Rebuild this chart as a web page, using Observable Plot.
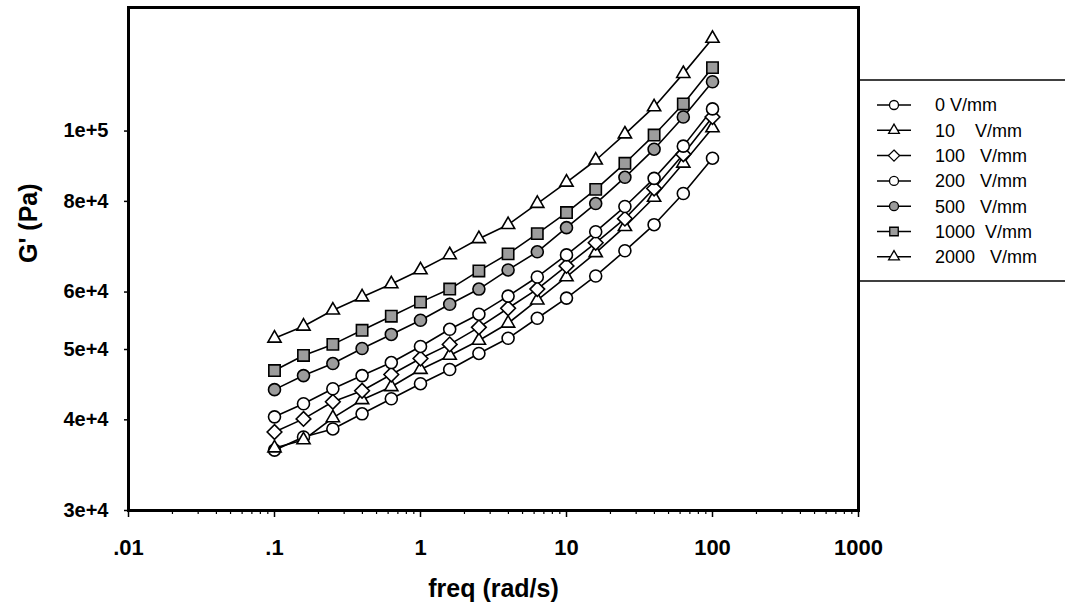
<!DOCTYPE html>
<html><head><meta charset="utf-8">
<script src="https://cdn.jsdelivr.net/npm/d3@7"></script>
<script src="https://cdn.jsdelivr.net/npm/@observablehq/plot@0.6"></script>
<style>
body{margin:0;background:#fff;}
#wrap{position:relative;width:1065px;height:613px;overflow:hidden;}
#wrap svg{position:absolute;left:0;top:0;}
</style></head><body><div id="wrap"></div>
<script>
// frequency (rad/s)
const freq = [0.1, 0.158, 0.251, 0.398, 0.631, 1, 1.585, 2.512, 3.981, 6.31, 10, 15.85, 25.12, 39.81, 63.1, 100];
// G' (Pa) per field strength
const g0    = [36330, 37880, 38860, 40770, 42770, 44860, 46920, 49380, 51810, 55210, 58860, 63140, 68390, 74300, 82030, 91750];
const g10   = [36570, 37520, 40250, 42630, 44420, 46920, 49070, 51460, 54340, 58480, 62940, 67950, 73820, 81000, 90280, 100970];
const g100  = [38490, 40120, 42360, 43870, 46180, 48590, 50820, 53640, 57000, 60570, 65190, 70150, 75740, 83350, 92920, 104570];
const g200  = [40380, 42090, 44150, 46030, 47970, 50490, 53310, 55930, 59230, 62940, 67510, 72660, 78700, 86070, 95330, 107280];
const g500  = [44020, 46030, 47820, 50160, 52450, 54860, 57730, 60570, 64360, 68170, 73600, 79450, 86350, 94410, 104570, 116950];
const g1000 = [46770, 49070, 50820, 53140, 55570, 58110, 60570, 64160, 67730, 72220, 77220, 83100, 90280, 98740, 108990, 122300];
const g2000 = [51810, 53820, 56640, 59050, 61550, 64360, 67510, 71040, 74300, 79450, 84990, 91150, 99040, 107960, 119990, 134170];

const seriesNames = ["0 V/mm", "10    V/mm", "100   V/mm", "200   V/mm", "500   V/mm", "1000  V/mm", "2000   V/mm"];
const seriesValues = [g0, g10, g100, g200, g500, g1000, g2000];

const xTicks = [0.01, 0.1, 1, 10, 100, 1000];
const xTickLabels = [".01", ".1", "1", "10", "100", "1000"];
const yTicks = [3e4, 4e4, 5e4, 6e4, 8e4, 1e5];
const yTickLabels = ["3e+4", "4e+4", "5e+4", "6e+4", "8e+4", "1e+5"];

// styles
const symbols = ["circle", "triangle", "diamond2", "circle", "circle", "square", "triangle"];
const fills = ["white", "white", "white", "white", "#9c9c9c", "#9c9c9c", "white"];
const radii = [6, 4.9, 6.6, 6, 6, 6.4, 4.9];

const rows = [];
seriesNames.forEach((s, i) => seriesValues[i].forEach((v, j) => rows.push({series: s, idx: i, freq: freq[j], g: v})));

const minorX = [];
for (let e = -2; e < 3; e++) for (let k = 2; k <= 9; k++) minorX.push(k * Math.pow(10, e));

const font = "'Liberation Sans', Arial, sans-serif";

const marks = [
  Plot.axisX({ticks: minorX, tickSize: 4, tickFormat: () => "", strokeWidth: 1.2, label: null}),
  Plot.axisX({ticks: xTicks, tickSize: 7, tickPadding: 22, strokeWidth: 1.5,
    tickFormat: d => xTickLabels[xTicks.indexOf(d)], fontSize: 22, fontWeight: "bold", label: null}),
  Plot.axisY({ticks: yTicks, tickSize: 4, tickPadding: 16, strokeWidth: 1.5,
    tickFormat: d => yTickLabels[yTicks.indexOf(d)], fontSize: 20, fontWeight: "bold", label: null}),
  Plot.text(["freq (rad/s)"], {frameAnchor: "bottom", dy: 86, fontSize: 25, fontWeight: "bold", letterSpacing: 1}),
  Plot.text(["G' (Pa)"], {frameAnchor: "left", dx: -100, dy: 4, rotate: -90, fontSize: 25, fontWeight: "bold", letterSpacing: 1}),
  Plot.line(rows, {x: "freq", y: "g", z: "series", stroke: "black", strokeWidth: 1.6})
];
seriesNames.forEach((s, i) => {
  marks.push(Plot.dot(rows.filter(d => d.idx === i), {x: "freq", y: "g", symbol: symbols[i], r: radii[i],
    fill: fills[i], stroke: "black", strokeWidth: 1.6}));
});
marks.push(Plot.frame({stroke: "black", strokeWidth: 3}));

const chart = Plot.plot({
  width: 1065, height: 613,
  marginLeft: 128, marginRight: 207, marginTop: 7, marginBottom: 103,
  x: {type: "log", domain: [0.01, 1000], axis: null},
  y: {type: "log", domain: [3e4, 1.48e5], axis: null},
  style: {fontFamily: font, background: "white", color: "black"},
  marks
});
d3.select(chart).selectAll("text").style("white-space", "pre");
document.getElementById("wrap").appendChild(chart);

// legend box (right of the plot frame)
const lg = d3.select("#wrap").append("svg").attr("width", 1065).attr("height", 613)
  .style("font-family", font);
const lx0 = 858, ly0 = 80, ly1 = 281, rowH = 25.3, firstRow = 105;
lg.append("line").attr("x1", lx0).attr("x2", 1065).attr("y1", ly0).attr("y2", ly0).attr("stroke", "black").attr("stroke-width", 1.5);
lg.append("line").attr("x1", lx0).attr("x2", 1065).attr("y1", ly1).attr("y2", ly1).attr("stroke", "black").attr("stroke-width", 1.5);
const symMap = {circle: d3.symbolCircle, triangle: d3.symbolTriangle, diamond2: d3.symbolDiamond2, square: d3.symbolSquare};
const legR = [4.5, 4, 5, 4.5, 4.5, 4.8, 4];
seriesNames.forEach((s, i) => {
  const y = firstRow + i * rowH;
  const g = lg.append("g").attr("transform", `translate(0,${y})`);
  g.append("line").attr("x1", 877).attr("x2", 911).attr("y1", 0).attr("y2", 0).attr("stroke", "black").attr("stroke-width", 1.5);
  g.append("path").attr("transform", "translate(894,0)")
    .attr("d", d3.symbol(symMap[symbols[i]], Math.PI * legR[i] * legR[i])())
    .attr("fill", fills[i]).attr("stroke", "black").attr("stroke-width", 1.3);
  g.append("text").attr("x", 935).attr("y", 0).attr("dy", "0.35em").attr("font-size", 18)
    .style("white-space", "pre").text(s);
});
</script></body></html>
